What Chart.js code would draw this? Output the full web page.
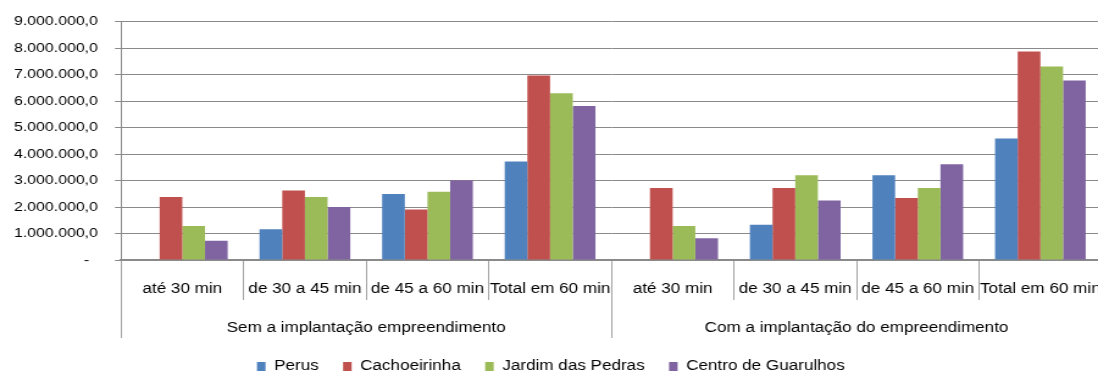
<!DOCTYPE html>
<html>
<head>
<meta charset="utf-8">
<script src="https://cdn.jsdelivr.net/npm/chart.js@4.4.1/dist/chart.umd.min.js"></script>
<style>
  html, body { margin: 0; padding: 0; background: #fff; overflow: hidden; width: 1098px; height: 372px; }
  /* the chart is laid out narrower and widened, giving the broad lettering of the original sheet */
  #wrap { position: absolute; left: 0; top: 0; width: 905px; height: 372px; transform: scaleX(1.22); transform-origin: 0 0; }
</style>
</head>
<body>
<div id="wrap"><canvas id="chart"></canvas></div>
<script>
// Travel-time bands, repeated for each scenario
const categories = ['até 30 min', 'de 30 a 45 min', 'de 45 a 60 min', 'Total em 60 min',
                    'até 30 min', 'de 30 a 45 min', 'de 45 a 60 min', 'Total em 60 min'];
const scenarios = ['Sem a implantação empreendimento', 'Com a implantação do empreendimento'];

// Population reached from each origin
const perus        = [0,       1160000, 2490000, 3720000, 0,       1330000, 3200000, 4590000];
const cachoeirinha = [2380000, 2630000, 1910000, 6970000, 2720000, 2720000, 2340000, 7880000];
const jardimPedras = [1280000, 2380000, 2580000, 6300000, 1280000, 3200000, 2720000, 7310000];
const centroGuarulhos = [730000, 2000000, 3010000, 5820000, 820000, 2250000, 3620000, 6780000];

const seriesNames = ['Perus', 'Cachoeirinha', 'Jardim das Pedras', 'Centro de Guarulhos'];
const seriesColors = ['#4F81BD', '#C0504D', '#9BBB59', '#8064A2'];

const yTickLabels = ['-', '1.000.000,0', '2.000.000,0', '3.000.000,0', '4.000.000,0',
                     '5.000.000,0', '6.000.000,0', '7.000.000,0', '8.000.000,0', '9.000.000,0'];

const family = "'Liberation Sans', Arial, sans-serif";
const tickFont = { family: family, size: 13 };
const labelFont = { family: family, size: 14 };
const gridGray = '#8a8a8a';
const sepGray = '#a3a3a3';

const values = [perus, cachoeirinha, jardimPedras, centroGuarulhos];

new Chart(document.getElementById('chart'), {
  type: 'bar',
  data: {
    labels: categories,
    datasets: seriesNames.map((name, i) => ({
      label: name,
      data: values[i],
      backgroundColor: seriesColors[i],
      borderWidth: 0,
      categoryPercentage: 0.74,
      barPercentage: 1.0
    }))
  },
  options: {
    responsive: true,
    maintainAspectRatio: false,
    animation: false,
    layout: { padding: { top: 21, right: 2, bottom: -11.5, left: 0 } },
    plugins: {
      tooltip: { enabled: false },
      legend: {
        position: 'bottom',
        labels: { boxWidth: 7, boxHeight: 9, padding: 20, color: '#000', font: labelFont }
      }
    },
    scales: {
      y: {
        min: 0,
        max: 9000000,
        afterFit(scale) { scale.width = 99.2; },
        ticks: {
          stepSize: 1000000,
          padding: 14,
          color: '#000',
          font: tickFont,
          callback: (v, i) => (yTickLabels[i] === '-' ? '-  ' : yTickLabels[i])
        },
        grid: { color: gridGray, lineWidth: 1, tickLength: 5 },
        border: { color: gridGray, width: 1 }
      },
      x: {
        type: 'category',
        position: 'bottom',
        weight: 0,
        offset: true,
        afterFit(scale) { scale.height = 40; },
        grid: { offset: true, drawOnChartArea: false, tickLength: 40, color: sepGray, lineWidth: 1 },
        border: { color: gridGray, width: 2 },
        ticks: { padding: -19, color: '#000', font: labelFont, maxRotation: 0, autoSkip: false }
      },
      xGroup: {
        type: 'category',
        axis: 'x',
        position: 'bottom',
        weight: 1,
        labels: scenarios,
        offset: true,
        afterFit(scale) { scale.height = 39.5; },
        grid: { offset: true, drawOnChartArea: false, tickLength: 38, color: sepGray, lineWidth: 1 },
        border: { display: false },
        ticks: { padding: -18.7, color: '#000', font: labelFont, maxRotation: 0, autoSkip: false }
      }
    }
  }
});
</script>
</body>
</html>
